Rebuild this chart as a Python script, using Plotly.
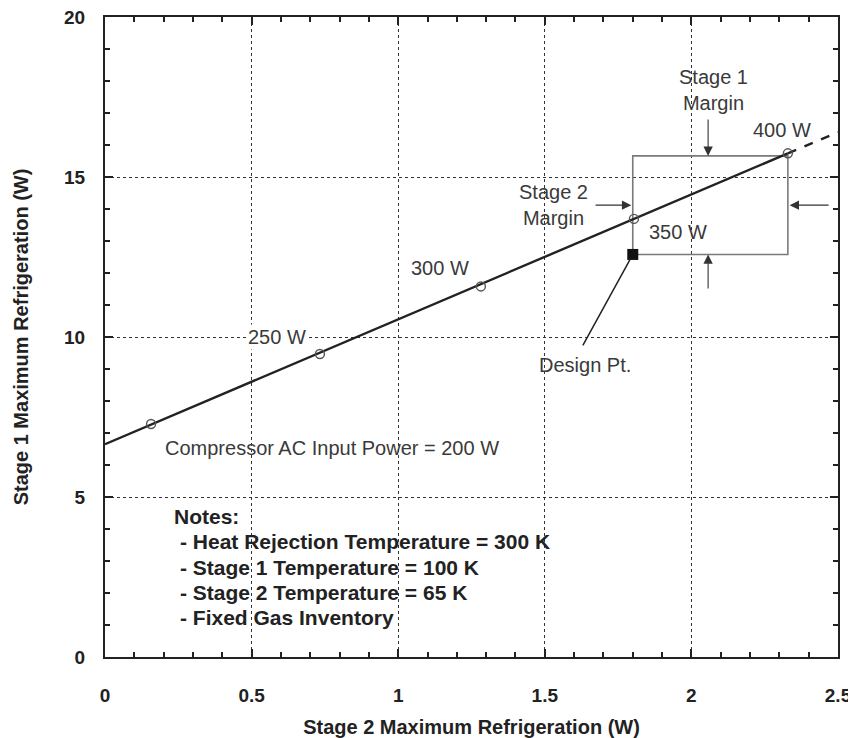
import plotly.graph_objects as go

# ---- data ----
power_labels = ["200 W", "250 W", "300 W", "350 W", "400 W"]
stage2_pts = [0.157, 0.733, 1.282, 1.804, 2.329]
stage1_pts = [7.28, 9.47, 11.58, 13.69, 15.74]

line_x_solid = [0.0, 2.329]
line_y_solid = [6.65, 15.74]
line_x_dash = [2.329, 2.5]
line_y_dash = [15.74, 16.40]

design_x = [1.80]
design_y = [12.58]

box_x = [1.80, 2.329, 2.329, 1.80, 1.80]
box_y = [12.58, 12.58, 15.66, 15.66, 12.58]

notes = ["Notes:",
         "- Heat Rejection Temperature = 300 K",
         "- Stage 1 Temperature = 100 K",
         "- Stage 2 Temperature = 65 K",
         "- Fixed Gas Inventory"]

FONT = "Liberation Sans, Arial, Helvetica, sans-serif"
TXT = "#3a3a3a"
ASZ = 20

fig = go.Figure()
fig.add_trace(go.Scatter(x=box_x, y=box_y, mode="lines",
                         line=dict(color="#7a7a7a", width=1.6), hoverinfo="skip"))
fig.add_trace(go.Scatter(x=line_x_solid, y=line_y_solid, mode="lines",
                         line=dict(color="#222222", width=2.4)))
fig.add_trace(go.Scatter(x=line_x_dash, y=line_y_dash, mode="lines",
                         line=dict(color="#222222", width=2.4, dash="dash")))
fig.add_trace(go.Scatter(x=stage2_pts, y=stage1_pts, mode="markers",
                         marker=dict(symbol="circle-open", size=9,
                                     color="#555555", line=dict(width=1.4))))
fig.add_trace(go.Scatter(x=design_x, y=design_y, mode="markers",
                         marker=dict(symbol="square", size=11, color="#111111")))

ann = []
def txt(x, y, s, **kw):
    d = dict(x=x, y=y, text=s, showarrow=False, xref="x", yref="y",
             font=dict(family=FONT, size=ASZ, color=TXT))
    d.update(kw)
    ann.append(d)

# point labels
txt(0.587, 10.0, power_labels[1], bgcolor="white", borderpad=1)
txt(1.143, 12.16, power_labels[2])
txt(1.954, 13.28, power_labels[3])
txt(2.309, 16.47, power_labels[4])
txt(0.198, 6.53, "Compressor AC Input Power = " + power_labels[0], xanchor="left")
txt(2.074, 17.73, "Stage 1<br>Margin")
txt(1.528, 14.11, "Stage 2<br>Margin")
txt(1.637, 9.12, "Design Pt.")

# notes
note_y = [4.38, 3.60, 2.80, 2.01, 1.22]
for i, s in enumerate(notes):
    txt(0.229 if i == 0 else 0.249, note_y[i], s,
        xanchor="left", font=dict(family=FONT, size=21, color="#222222", weight="bold"))

# arrows
def arrow(x, y, ax, ay):
    ann.append(dict(x=x, y=y, ax=ax, ay=ay, xref="x", yref="y", axref="x", ayref="y",
                    showarrow=True, arrowhead=2, arrowsize=1.7, arrowwidth=1.1,
                    arrowcolor="#333333", text=""))
arrow(2.057, 15.66, 2.057, 16.84)
arrow(2.057, 12.58, 2.057, 11.47)
arrow(1.795, 14.12, 1.668, 14.12)
arrow(2.335, 14.12, 2.473, 14.12)
# design point leader
ann.append(dict(x=1.79, y=12.41, ax=1.627, ay=9.69, xref="x", yref="y", axref="x", ayref="y",
                showarrow=True, arrowhead=0, arrowwidth=1.5, arrowcolor="#222222", text=""))

# page body has an 8px margin, so figure is sized/offset to compensate
fig.update_layout(
    width=848, height=730,
    margin=dict(l=97, r=18, t=9, b=81),
    paper_bgcolor="white", plot_bgcolor="white",
    showlegend=False,
    annotations=ann,
    font=dict(family=FONT, color="#222222"),
)
axis_common = dict(
    showline=True, linecolor="#222222", linewidth=2.2, mirror="allticks",
    ticks="inside", ticklen=8, tickwidth=1.6, tickcolor="#222222",
    showgrid=True, gridcolor="#333333", griddash="dot", gridwidth=1.4,
    zeroline=False, automargin=False, ticklabeloverflow="allow",
    tickfont=dict(family=FONT, size=19, color="#222222", weight="bold"),
)
fig.update_xaxes(range=[0, 2.5], tickvals=[0, 0.5, 1, 1.5, 2, 2.5],
                 ticktext=["0", "0.5", "1", "1.5", "2", "2.5"],
                 ticklabelstandoff=20,
                 minor=dict(ticks="inside", dtick=0.1, ticklen=5, tickcolor="#222222", showgrid=False),
                 title=dict(text="Stage 2 Maximum Refrigeration (W)", standoff=16,
                            font=dict(family=FONT, size=20, color="#222222", weight="bold")),
                 **axis_common)
fig.update_yaxes(range=[0, 20], tickvals=[0, 5, 10, 15, 20],
                 ticklabelstandoff=14,
                 minor=dict(ticks="inside", dtick=1, ticklen=5, tickcolor="#222222", showgrid=False),
                 title=dict(text="Stage 1 Maximum Refrigeration (W)", standoff=30,
                            font=dict(family=FONT, size=20, color="#222222", weight="bold")),
                 **axis_common)

fig.write_html("out.html")
